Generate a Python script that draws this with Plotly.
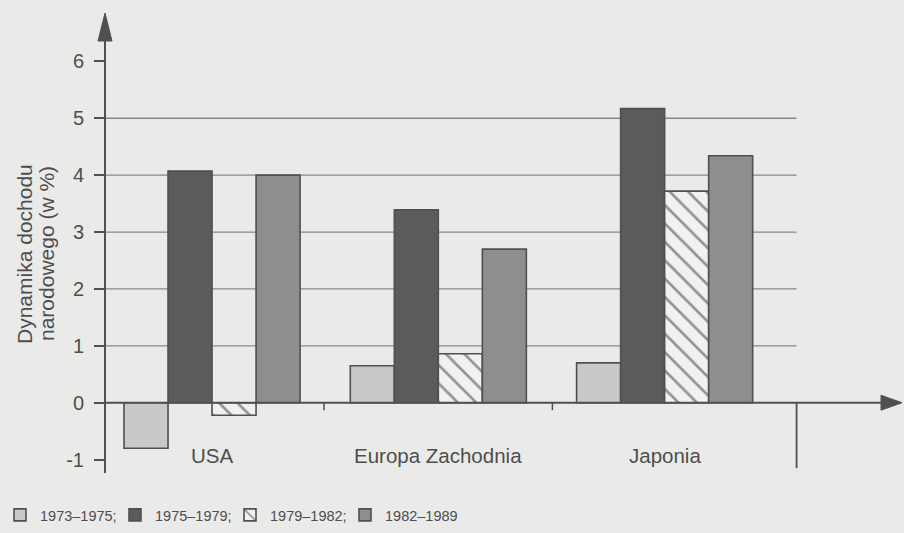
import plotly.graph_objects as go

# ---- data ----
categories = ["USA", "Europa Zachodnia", "Japonia"]
periods = ["1973–1975;", "1975–1979;", "1979–1982;", "1982–1989"]
v_1973_1975 = [-0.80, 0.65, 0.70]
v_1975_1979 = [4.07, 3.39, 5.17]
v_1979_1982 = [-0.22, 0.86, 3.72]
v_1982_1989 = [4.00, 2.70, 4.34]
y_ticks = [-1, 0, 1, 2, 3, 4, 5, 6]
grid_levels = [1, 2, 3, 4, 5]
y_title_lines = ["Dynamika dochodu", "narodowego (w %)"]

# ---- styling ----
BG = "#eaeae9"
AX = "#505050"
TXT = "#4e4e4e"
FONT = "Liberation Sans, Arial, sans-serif"

W, H = 904, 533
L, R, T, B = 105, 2, 13, 60
pw, ph = W - L - R, H - T - B

X0 = -0.473
UNIT_X = 226.3
X1 = X0 + pw / UNIT_X
Y0, Y1 = -1.235, 6.85
XSEP_END = 2.583
xpos = list(range(len(categories)))


def xp(px):
    return (px - L) / pw


def yp(py):
    return (H - B - py) / ph


fig = go.Figure()
series = [
    (periods[0], v_1973_1975, dict(color="#c9c9c8")),
    (periods[1], v_1975_1979, dict(color="#5b5b5b")),
    (periods[2], v_1979_1982, dict(color="#f1f1f0",
                                   pattern=dict(shape="\\", fgcolor="#333333", bgcolor="#f1f1f0",
                                                size=13, solidity=0.2))),
    (periods[3], v_1982_1989, dict(color="#8e8e8e")),
]
for name, vals, mk in series:
    mk = dict(mk)
    mk["line"] = dict(color=AX, width=1.6)
    fig.add_trace(go.Bar(name=name, x=xpos, y=vals, marker=mk))

shapes = []
for g in grid_levels:
    shapes.append(dict(type="line", xref="x", yref="y", x0=X0, x1=XSEP_END, y0=g, y1=g,
                       line=dict(color="#878787", width=1.3), layer="below"))

y_zero_px = H - B - (0 - Y0) / (Y1 - Y0) * ph
# y axis line + arrow
shapes.append(dict(type="line", xref="paper", yref="paper", x0=xp(105), x1=xp(105),
                   y0=0, y1=yp(38), line=dict(color=AX, width=2)))
shapes.append(dict(type="path", xref="paper", yref="paper",
                   path=f"M {xp(98)},{yp(41)} L {xp(112)},{yp(41)} L {xp(105)},{yp(13)} Z",
                   fillcolor=AX, line=dict(color=AX, width=1)))
# x axis line + arrow
shapes.append(dict(type="line", xref="paper", yref="paper", x0=xp(105), x1=xp(884),
                   y0=yp(y_zero_px), y1=yp(y_zero_px), line=dict(color=AX, width=2)))
shapes.append(dict(type="path", xref="paper", yref="paper",
                   path=(f"M {xp(881)},{yp(y_zero_px-7.5)} L {xp(881)},{yp(y_zero_px+7.5)} "
                         f"L {xp(902)},{yp(y_zero_px)} Z"),
                   fillcolor=AX, line=dict(color=AX, width=1)))
# category separators
for s in [0.495, 1.504]:
    shapes.append(dict(type="line", xref="x", yref="y", x0=s, x1=s, y0=0, y1=-0.13,
                       line=dict(color=AX, width=1.5)))
shapes.append(dict(type="line", xref="x", yref="y", x0=XSEP_END, x1=XSEP_END, y0=0, y1=-1.15,
                   line=dict(color=AX, width=1.8)))

annotations = []
for i, c in enumerate(categories):
    annotations.append(dict(x=i, y=-0.92, xref="x", yref="y", text=c, showarrow=False,
                            xanchor="center", yanchor="middle",
                            font=dict(family=FONT, size=20.5, color=TXT)))
for txt, cx in zip(y_title_lines, [24, 46]):
    annotations.append(dict(x=xp(cx), y=yp(254), xref="paper", yref="paper", text=txt,
                            showarrow=False, textangle=-90, xanchor="center", yanchor="middle",
                            font=dict(family=FONT, size=21, color=TXT)))

fig.update_layout(
    width=W, height=H,
    margin=dict(l=L, r=R, t=T, b=B, pad=0, autoexpand=False),
    paper_bgcolor=BG, plot_bgcolor=BG,
    barmode="group", bargap=0.222, bargroupgap=0,
    font=dict(family=FONT, color=TXT),
    xaxis=dict(range=[X0, X1], visible=False, fixedrange=True),
    yaxis=dict(range=[Y0, Y1], tickvals=y_ticks, ticktext=[str(t) for t in y_ticks],
               ticks="outside", ticklen=10, tickwidth=1.5, tickcolor=AX,
               showgrid=False, zeroline=False, showline=False, fixedrange=True,
               tickfont=dict(family=FONT, size=20, color=TXT), ticklabelstandoff=6),
    showlegend=True,
    legend=dict(orientation="h", xref="container", yref="container",
                x=-4 / W, xanchor="left",
                y=(H - 515) / H, yanchor="middle",
                font=dict(family=FONT, size=14.5, color=TXT),
                entrywidth=70, entrywidthmode="pixels", itemwidth=30,
                bgcolor="rgba(0,0,0,0)", traceorder="normal"),
    shapes=shapes, annotations=annotations,
)

fig.write_html("out.html", config={"displayModeBar": False},
               post_script="document.body.style.margin='0px';")
